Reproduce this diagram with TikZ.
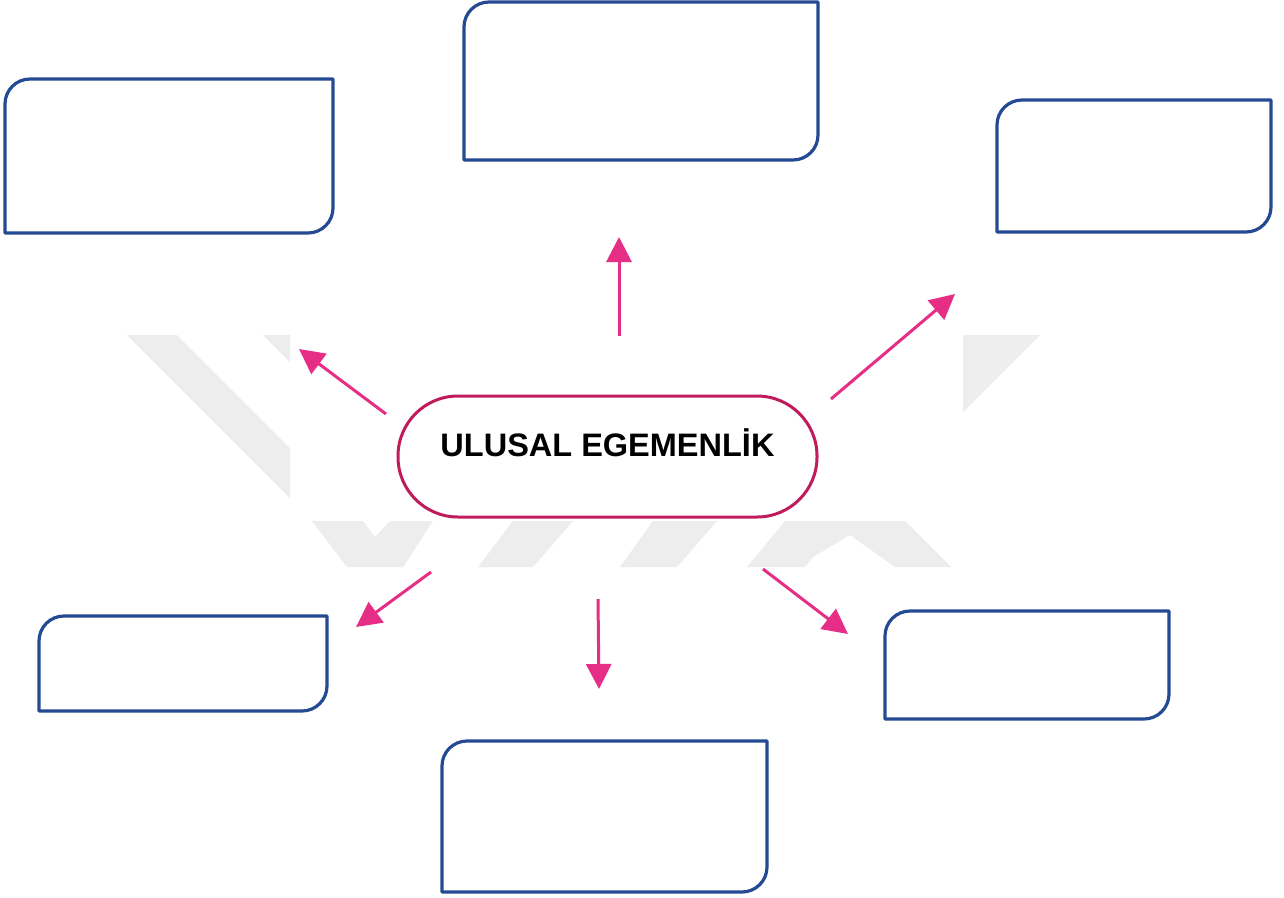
\documentclass[tikz,border=0pt]{standalone}
\usepackage{fontspec}
\setmainfont{Liberation Sans}
\usetikzlibrary{arrows.meta}
\definecolor{boxblue}{HTML}{244A94}
\definecolor{arrowpink}{HTML}{E62E86}
\definecolor{hubred}{HTML}{C01B5C}
\definecolor{wmgrey}{HTML}{EDEDED}
\tikzset{
  slot/.style={draw=none, inner sep=0pt, outer sep=0pt, minimum width=#1},
  bx/.style={draw=boxblue, line width=3.2pt, line join=round},
  hub/.style={draw=hubred, line width=3pt, rounded corners=60pt, inner sep=0pt, outer sep=0pt,
    minimum width=419pt, minimum height=121pt, text height=0pt, text depth=0pt,
    font=\bfseries\fontsize{32.5}{36}\selectfont},
  link/.style={draw=arrowpink, line width=3pt, -{Triangle[length=25pt,width=25pt]}},
  wm/.style={fill=wmgrey, draw=none}
}
\newcommand\drawslot[1]{%
  \draw[bx] (#1.south west) [rounded corners=25pt] -- (#1.north west) [sharp corners] -- (#1.north east)
    [rounded corners=25pt] -- (#1.south east) [sharp corners] -- cycle;}
\begin{document}
\begin{tikzpicture}[x=1pt,y=-1pt]
\useasboundingbox (0,0) rectangle (1284,897);
\fill[white] (0,0) rectangle (1284,897);
% watermark
\fill[wm] (127,335) -- (177,335) -- (290,448) -- (290,498) -- cycle;
\fill[wm] (263,335) -- (290,335) -- (290,362) -- cycle;
\fill[wm] (963,335) -- (1040,335) -- (963,412) -- cycle;
\fill[wm] (312,521) -- (363,521) -- (375,537) -- (390,521) -- (433,521) -- (403,567) -- (347,567) -- cycle;
\fill[wm] (513,521) -- (573,521) -- (533,567) -- (478,567) -- cycle;
\fill[wm] (653,521) -- (717,521) -- (677,567) -- (620,567) -- cycle;
\fill[wm] (747,567) -- (785,521) -- (905,521) -- (951,567) -- (895,567) -- (850,535) -- (813,557) -- (805,567) -- cycle;
% boxes
\node[slot=328pt, minimum height=154pt] (b1) at (169,156) {};
\node[slot=354pt, minimum height=158pt] (b2) at (641,81) {};
\node[slot=274pt, minimum height=132pt] (b3) at (1134,166) {};
\node[slot=288pt, minimum height=95pt]  (b4) at (183,663.5) {};
\node[slot=325pt, minimum height=151pt] (b5) at (604.5,816.5) {};
\node[slot=284pt, minimum height=108pt] (b6) at (1027,665) {};
\drawslot{b1}\drawslot{b2}\drawslot{b3}\drawslot{b4}\drawslot{b5}\drawslot{b6}
% hub
\node[hub] (hub) at (607.5,456.5) {ULUSAL EGEMENLİK};
% arrow ends
\coordinate (a1s) at (619,336); \coordinate (a1e) at (619,237);
\coordinate (a2s) at (386,414); \coordinate (a2e) at (299,349);
\coordinate (a3s) at (831,399); \coordinate (a3e) at (955,294);
\coordinate (a4s) at (431,572); \coordinate (a4e) at (356,627);
\coordinate (a5s) at (598,599); \coordinate (a5e) at (599,689);
\coordinate (a6s) at (763,569); \coordinate (a6e) at (848,634);
\foreach \i in {1,...,6} { \draw[link] (a\i s) -- (a\i e); }
\end{tikzpicture}
\end{document}
